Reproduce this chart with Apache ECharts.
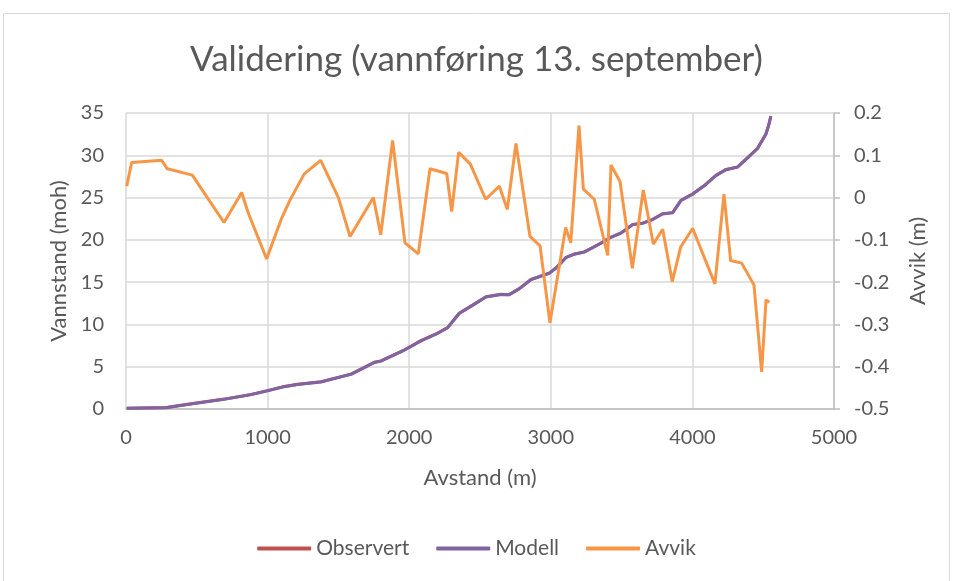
<!DOCTYPE html>
<html>
<head>
<meta charset="utf-8">
<script src="https://cdn.jsdelivr.net/npm/echarts@6/dist/echarts.min.js"></script>
<style>
  html, body { margin: 0; padding: 0; background: #fff; }
  #chart { width: 953px; height: 581px; }
</style>
</head>
<body>
<div id="chart"></div>
<script>
// avstand (m) for vannstand-punktene
var avstand = [5, 283, 459, 694, 883, 1000, 1106, 1212, 1377, 1471, 1589, 1683, 1753, 1800, 1965, 2083,
  2189, 2271, 2353, 2447, 2542, 2648, 2706, 2777, 2860, 2989, 3036, 3107, 3166, 3236, 3354, 3425,
  3496, 3578, 3648, 3719, 3789, 3860, 3919, 4001, 4084, 4166, 4237, 4319, 4390, 4460, 4519, 4538, 4554];
var observert = [0.1, 0.17, 0.62, 1.17, 1.72, 2.17, 2.62, 2.92, 3.22, 3.62, 4.12, 4.93, 5.52, 5.68, 6.97, 8.08,
  8.87, 9.62, 11.32, 12.28, 13.27, 13.57, 13.52, 14.23, 15.31, 16.07, 16.68, 17.92, 18.32, 18.57, 19.62, 20.32,
  20.82, 21.82, 21.97, 22.42, 23.08, 23.22, 24.67, 25.42, 26.42, 27.63, 28.32, 28.62, 29.72, 30.82, 32.52, 33.52, 34.62];
var modell = [0.08, 0.15, 0.6, 1.15, 1.7, 2.15, 2.6, 2.9, 3.2, 3.6, 4.1, 4.9, 5.5, 5.66, 6.95, 8.05,
  8.84, 9.6, 11.3, 12.25, 13.25, 13.55, 13.5, 14.2, 15.3, 16.05, 16.65, 17.9, 18.3, 18.55, 19.6, 20.3,
  20.8, 21.8, 21.95, 22.4, 23.05, 23.2, 24.65, 25.4, 26.4, 27.6, 28.3, 28.6, 29.7, 30.8, 32.5, 33.5, 34.6];

// avvik (m)
var avvikAvstand = [5, 40, 252, 292, 468, 692, 817, 864, 993, 1099, 1158, 1259, 1375, 1500, 1582, 1747,
  1799, 1883, 1970, 2064, 2147, 2265, 2300, 2349, 2432, 2540, 2637, 2693, 2754, 2853, 2924, 2994,
  3105, 3141, 3199, 3230, 3307, 3402, 3425, 3489, 3576, 3653, 3724, 3790, 3858, 3917, 4002, 4159,
  4223, 4270, 4348, 4435, 4489, 4520, 4543];
var avvik = [0.027, 0.083, 0.088, 0.068, 0.053, -0.059, 0.012, -0.037, -0.145, -0.049, -0.006, 0.056, 0.088, 0.0, -0.092, 0.0,
  -0.088, 0.135, -0.107, -0.133, 0.068, 0.057, -0.033, 0.107, 0.079, -0.004, 0.027, -0.028, 0.128, -0.092, -0.114, -0.296,
  -0.071, -0.107, 0.170, 0.020, -0.004, -0.137, 0.077, 0.038, -0.167, 0.018, -0.110, -0.075, -0.199, -0.117, -0.073, -0.204,
  0.008, -0.149, -0.155, -0.207, -0.412, -0.242, -0.248];

var xTicks = [0, 5000, 1000];
var yLeft = [0, 35, 5];
var yRight = [-0.5, 0.2, 0.1];

function pairs(xs, ys) {
  return xs.map(function (x, i) { return [x, ys[i]]; });
}

var txt = '#595959';
var font = 'Lato, "Open Sans", sans-serif';
var myChart = echarts.init(document.getElementById('chart'));

var option = {
  backgroundColor: '#fff',
  animation: false,
  textStyle: { fontFamily: font },
  title: {
    text: 'Validering (vannføring 13. september)',
    left: 'center',
    top: 37,
    textStyle: { fontSize: 35, fontWeight: 'normal', color: txt, fontFamily: font }
  },
  graphic: [{
    type: 'rect',
    shape: { x: 3.5, y: 13.5, width: 946, height: 600 },
    style: { fill: 'none', stroke: '#d9d9d9', lineWidth: 1 },
    silent: true
  }],
  legend: {
    bottom: 17,
    left: 'center',
    itemWidth: 54,
    itemHeight: 4,
    itemGap: 27,
    icon: 'roundRect',
    textStyle: { fontSize: 21, color: txt, fontFamily: font },
    data: ['Observert', 'Modell', 'Avvik']
  },
  grid: { left: 126, right: 119, top: 113, bottom: 172 },
  xAxis: {
    type: 'value',
    min: xTicks[0], max: xTicks[1], interval: xTicks[2],
    name: 'Avstand (m)',
    nameLocation: 'middle',
    nameGap: 58,
    nameTextStyle: { fontSize: 22, color: txt },
    axisLine: { show: true, lineStyle: { color: '#bfbfbf', width: 1.5 } },
    axisTick: { show: false },
    axisLabel: { fontSize: 20, color: txt, margin: 19, formatter: function (v) { return String(v); } },
    splitLine: { show: true, lineStyle: { color: '#d9d9d9', width: 1.5 } }
  },
  yAxis: [{
    type: 'value',
    min: yLeft[0], max: yLeft[1], interval: yLeft[2],
    name: 'Vannstand (moh)',
    nameLocation: 'middle',
    nameGap: 56,
    nameTextStyle: { fontSize: 22, color: txt },
    axisLine: { show: false },
    axisTick: { show: false },
    axisLabel: { fontSize: 20, color: txt, margin: 22 },
    splitLine: { show: true, lineStyle: { color: '#d9d9d9', width: 1.5 } }
  }, {
    type: 'value',
    position: 'right',
    min: yRight[0], max: yRight[1], interval: yRight[2],
    name: 'Avvik (m)',
    nameLocation: 'middle',
    nameGap: 73,
    nameTextStyle: { fontSize: 22, color: txt },
    axisLine: { show: true, lineStyle: { color: '#bfbfbf', width: 1.5 } },
    axisTick: { show: true, length: 6, lineStyle: { color: '#bfbfbf', width: 1.5 } },
    axisLabel: {
      fontSize: 20, color: txt, margin: 20,
      formatter: function (v) { return String(Math.round(v * 10) / 10); }
    },
    splitLine: { show: false }
  }],
  series: [{
    name: 'Observert',
    type: 'line',
    yAxisIndex: 0,
    showSymbol: false,
    itemStyle: { color: '#c0504d' },
    lineStyle: { color: '#c0504d', width: 3 },
    data: pairs(avstand, observert)
  }, {
    name: 'Modell',
    type: 'line',
    yAxisIndex: 0,
    showSymbol: false,
    itemStyle: { color: '#8064a2' },
    lineStyle: { color: '#8064a2', width: 3 },
    data: pairs(avstand, modell)
  }, {
    name: 'Avvik',
    type: 'line',
    yAxisIndex: 1,
    showSymbol: false,
    itemStyle: { color: '#f79646' },
    lineStyle: { color: '#f79646', width: 3 },
    data: pairs(avvikAvstand, avvik)
  }]
};

myChart.setOption(option);
</script>
</body>
</html>
